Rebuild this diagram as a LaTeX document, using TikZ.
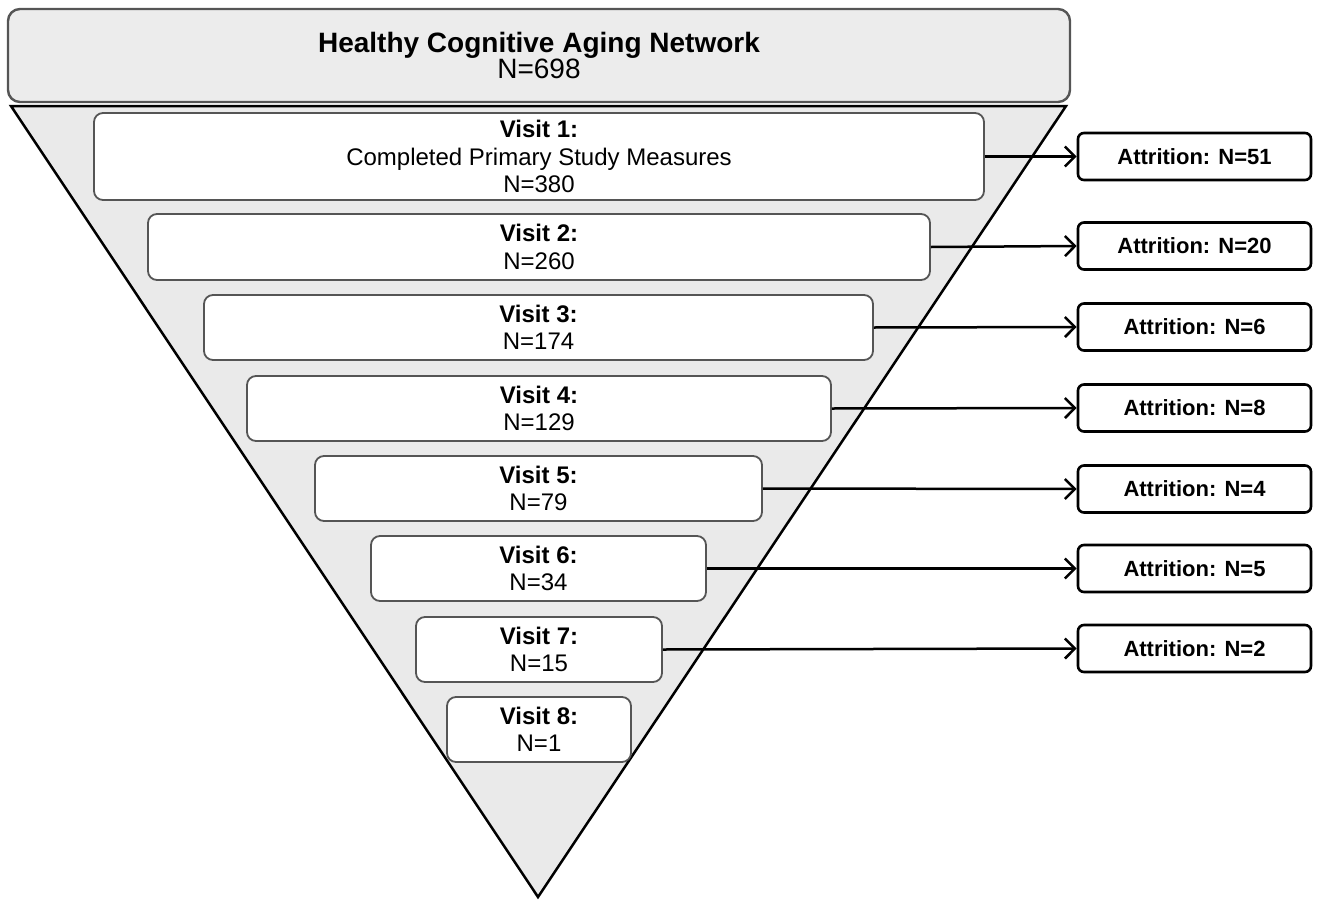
\documentclass[tikz,border=0pt]{standalone}
\usepackage{fontspec}
\setmainfont{Liberation Sans}
\usetikzlibrary{arrows.meta}
\definecolor{funnel}{HTML}{EAEAEA}
\definecolor{topfill}{HTML}{ECECEC}
\definecolor{boxline}{HTML}{555555}
\begin{document}
\begin{tikzpicture}[x=1pt,y=-1pt,
  topbox/.style={draw=boxline, line width=2.4pt, fill=topfill, rounded corners=12pt,
    minimum width=1062pt, minimum height=93pt, align=center, inner sep=0pt},
  visitbox/.style={draw=boxline, line width=1.8pt, fill=white, rounded corners=9pt,
    minimum height=65pt, align=center, inner sep=0pt, font=\fontsize{24}{27.5}\selectfont},
  attrbox/.style={draw=black, line width=2.6pt, fill=white, rounded corners=6pt,
    minimum width=233pt, minimum height=47pt, inner sep=0pt, font=\fontsize{22}{26}\selectfont\bfseries},
  conn/.style={draw=black, line width=2.5pt, -{Straight Barb[length=10pt,width=20pt,line width=2.5pt]}}
]
\useasboundingbox (0,0) rectangle (1319,899);
% funnel
\draw[fill=funnel, line width=2.5pt, line join=miter] (11,106) -- (1066,106) -- (538,897) -- cycle;
% top box
\node[topbox] (top) at (539,55.5) {\fontsize{28}{28}\selectfont\textbf{Healthy Cognitive Aging Network}\\[0pt]\fontsize{28}{28}\selectfont N=698};
% visits
\node[visitbox, minimum width=890pt, minimum height=87pt] (v1) at (539,156.5) {\textbf{Visit 1:}\\Completed Primary Study Measures\\N=380};
\node[visitbox, minimum width=782pt, minimum height=66pt] (v2) at (539,247) {\textbf{Visit 2:}\\N=260};
\node[visitbox, minimum width=669pt] (v3) at (538.5,327.5) {\textbf{Visit 3:}\\N=174};
\node[visitbox, minimum width=584pt] (v4) at (539,408.5) {\textbf{Visit 4:}\\N=129};
\node[visitbox, minimum width=447pt] (v5) at (538.5,488.5) {\textbf{Visit 5:}\\N=79};
\node[visitbox, minimum width=335pt] (v6) at (538.5,568.5) {\textbf{Visit 6:}\\N=34};
\node[visitbox, minimum width=246pt] (v7) at (539,649.5) {\textbf{Visit 7:}\\N=15};
\node[visitbox, minimum width=184pt] (v8) at (539,729.5) {\textbf{Visit 8:}\\N=1};
% attrition
\node[attrbox] (a1) at (1194.5,156.5) {Attrition: N=51};
\node[attrbox] (a2) at (1194.5,246) {Attrition: N=20};
\node[attrbox] (a3) at (1194.5,327) {Attrition: N=6};
\node[attrbox] (a4) at (1194.5,408) {Attrition: N=8};
\node[attrbox] (a5) at (1194.5,489) {Attrition: N=4};
\node[attrbox] (a6) at (1194.5,568.5) {Attrition: N=5};
\node[attrbox] (a7) at (1194.5,648.5) {Attrition: N=2};
% connectors
\foreach \i in {1,...,7}{
  \draw[conn] (v\i.east) -- (a\i.west);
}
\end{tikzpicture}
\end{document}
